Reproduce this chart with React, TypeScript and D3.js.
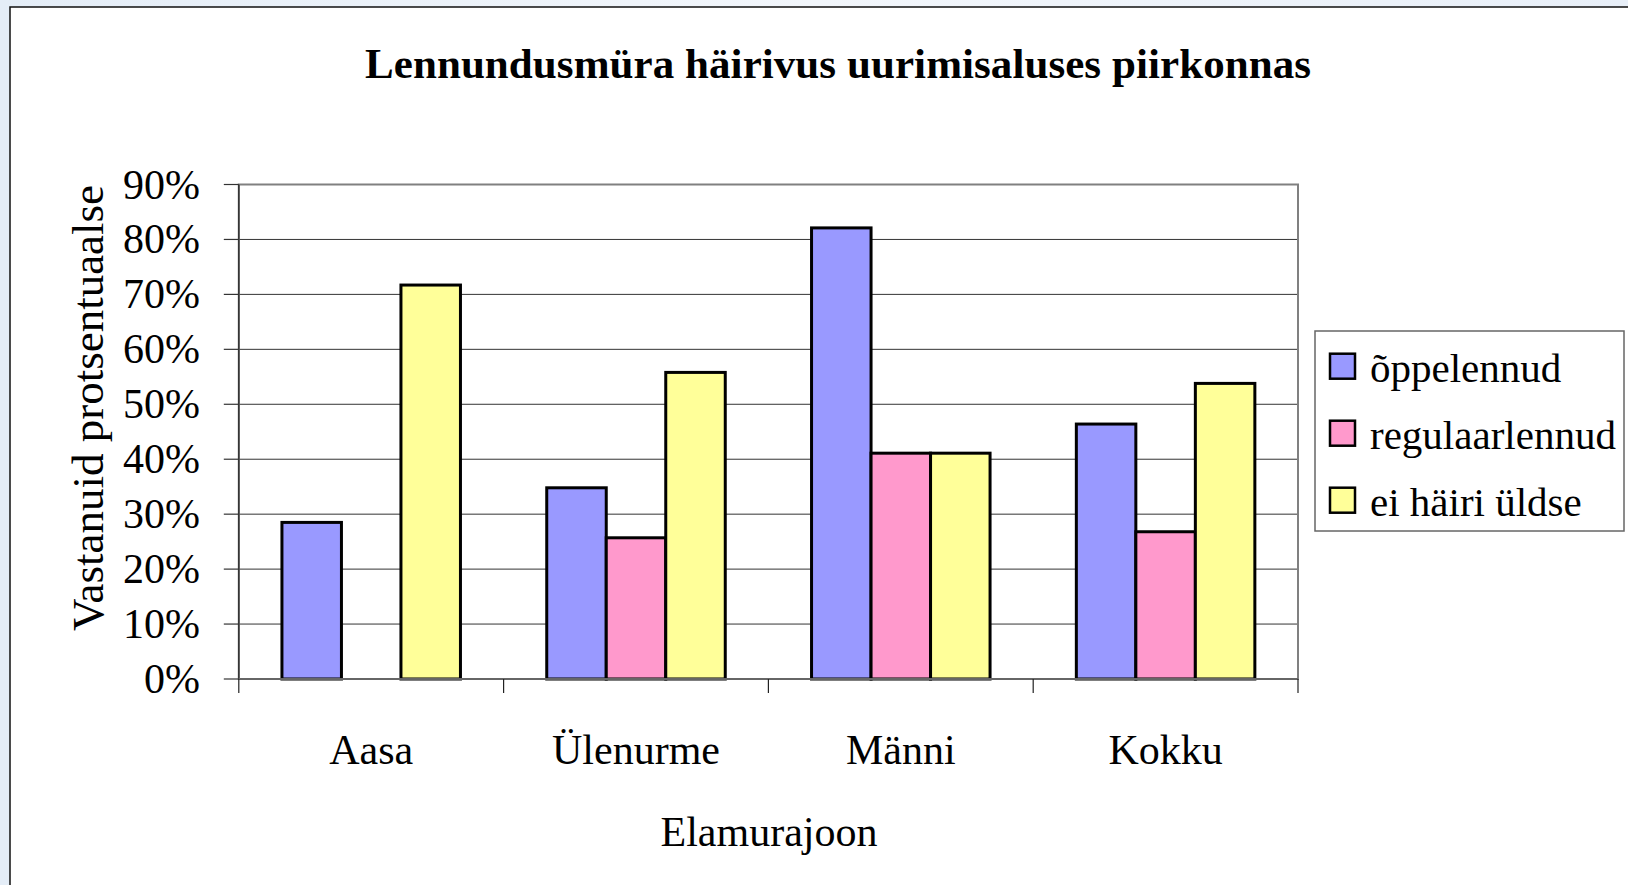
import React from "react";
import { scaleBand, scaleLinear, range } from "d3";

const categories = ["Aasa", "Ülenurme", "Männi", "Kokku"];
const seriesNames = ["õppelennud", "regulaarlennud", "ei häiri üldse"];
const seriesColors = ["#9999FF", "#FF99CC", "#FFFF99"];
// values in percent, one array per series (Aasa has no regulaarlennud bar)
const oppelennud = [28.5, 34.8, 82.1, 46.4];
const regulaarlennud = [0, 25.7, 41.1, 26.8];
const eiHairiUldse = [71.7, 55.8, 41.1, 53.8];
const yTicks = [0, 10, 20, 30, 40, 50, 60, 70, 80, 90];

const FONT = "'Liberation Serif', 'Times New Roman', serif";

const App = () => {
  const width = 1628;
  const height = 885;
  const plot = { left: 238.8, right: 1298, top: 184.5, bottom: 679 };

  const seriesValues = [oppelennud, regulaarlennud, eiHairiUldse];

  // Scales
  const x0 = scaleBand<string>().domain(categories).range([plot.left, plot.right]).padding(0);
  const x1 = scaleBand<string>()
    .domain(seriesNames)
    .range([0, x0.bandwidth()])
    .paddingInner(0)
    .paddingOuter(0.725);
  const y = scaleLinear().domain([0, 90]).range([plot.bottom, plot.top]);

  const bars = categories.flatMap((cat, ci) =>
    seriesNames.map((s, si) => ({ cat, s, si, v: seriesValues[si][ci] }))
  ).filter((d) => d.v > 0);

  const catTicks = range(categories.length + 1).map((i) =>
    i < categories.length ? (x0(categories[i]) as number) : plot.right
  );

  const legend = { x: 1315, y: 331, w: 309, h: 200 };

  return (
    <svg
      width={width}
      height={height}
      style={{ position: "absolute", left: 0, top: 0, fontFamily: FONT }}
    >
      <defs>
        <linearGradient id="bg" x1="0" y1="0" x2="1" y2="0">
          <stop offset="0" stopColor="#e4edf7" />
          <stop offset="0.5" stopColor="#f2f6fb" />
          <stop offset="1" stopColor="#e8eff8" />
        </linearGradient>
      </defs>
      <rect x={0} y={0} width={width} height={height} fill="url(#bg)" />
      {/* chart frame */}
      <rect x={10} y={7} width={width} height={height} fill="#ffffff" stroke="#111" strokeWidth={1.5} />

      {/* title */}
      <text
        x={838}
        y={78}
        textAnchor="middle"
        fontSize={43}
        fontWeight="bold"
        textLength={946}
        lengthAdjust="spacing"
      >
        Lennundusmüra häirivus uurimisaluses piirkonnas
      </text>

      {/* gridlines */}
      {yTicks.slice(1, -1).map((t) => (
        <line key={t} x1={plot.left} x2={plot.right} y1={y(t)} y2={y(t)} stroke="#333" strokeWidth={1} />
      ))}

      {/* plot area border */}
      <rect
        x={plot.left}
        y={plot.top}
        width={plot.right - plot.left}
        height={plot.bottom - plot.top}
        fill="none"
        stroke="#808080"
        strokeWidth={2}
      />

      {/* bars */}
      {bars.map((d) => (
        <rect
          key={d.cat + d.s}
          x={(x0(d.cat) as number) + (x1(d.s) as number)}
          y={y(d.v)}
          width={x1.bandwidth()}
          height={y(0) - y(d.v)}
          fill={seriesColors[d.si]}
          stroke="#000"
          strokeWidth={3}
        />
      ))}

      {/* axes lines */}
      <line x1={plot.left} x2={plot.left} y1={plot.top} y2={plot.bottom} stroke="#333" strokeWidth={1.5} />
      <line x1={plot.left} x2={plot.right} y1={plot.bottom} y2={plot.bottom} stroke="#666" strokeWidth={2} />

      {/* y ticks & labels */}
      {yTicks.map((t) => (
        <g key={t}>
          <line x1={plot.left - 15} x2={plot.left} y1={y(t)} y2={y(t)} stroke="#333" strokeWidth={1.2} />
          <text x={200} y={y(t) + 14} textAnchor="end" fontSize={42}>
            {t}%
          </text>
        </g>
      ))}

      {/* x ticks */}
      {catTicks.map((tx, i) => (
        <line key={i} x1={tx} x2={tx} y1={plot.bottom} y2={plot.bottom + 14} stroke="#222" strokeWidth={1.2} />
      ))}

      {/* category labels */}
      {categories.map((c) => (
        <text key={c} x={(x0(c) as number) + x0.bandwidth() / 2} y={764} textAnchor="middle" fontSize={42}>
          {c}
        </text>
      ))}

      {/* axis titles */}
      <text x={769} y={846} textAnchor="middle" fontSize={42}>
        Elamurajoon
      </text>
      <text
        transform={`translate(103, 408) rotate(-90)`}
        textAnchor="middle"
        fontSize={45}
      >
        Vastanuid protsentuaalse
      </text>

      {/* legend */}
      <rect x={legend.x} y={legend.y} width={legend.w} height={legend.h} fill="#fff" stroke="#666" strokeWidth={1.5} />
      {seriesNames.map((s, i) => {
        const cy = 366.7 + i * 67;
        return (
          <g key={s}>
            <rect x={1330} y={cy - 13} width={25} height={25} fill={seriesColors[i]} stroke="#000" strokeWidth={2.5} />
            <text x={1370} y={cy + 15} fontSize={41}>
              {s}
            </text>
          </g>
        );
      })}
    </svg>
  );
};

export default App;
